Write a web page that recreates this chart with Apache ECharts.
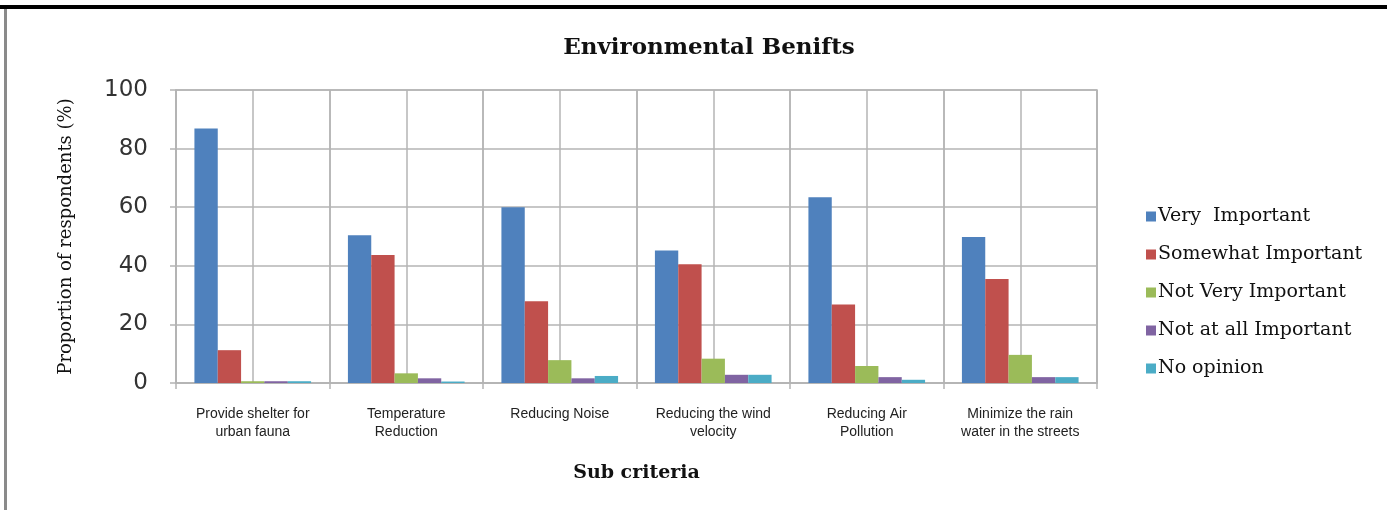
<!DOCTYPE html>
<html>
<head>
<meta charset="utf-8">
<script src="https://cdn.jsdelivr.net/npm/echarts@6/dist/echarts.min.js"></script>
<style>html,body{margin:0;padding:0;background:#fff;}#c{width:1387px;height:510px;}</style>
</head>
<body>
<div id="c"></div>
<script>
const categories = ['Provide shelter for\nurban fauna', 'Temperature\nReduction', 'Reducing Noise', 'Reducing the wind\nvelocity', 'Reducing Air\nPollution', 'Minimize the rain\nwater in the streets'];
const seriesNames = ['Very  Important', 'Somewhat Important', 'Not Very Important', 'Not at all Important', 'No opinion'];
const veryImportant = [86.9, 50.4, 60.0, 45.2, 63.4, 49.8];
const somewhatImportant = [11.2, 43.7, 27.9, 40.5, 26.8, 35.5];
const notVeryImportant = [0.6, 3.3, 7.8, 8.3, 5.8, 9.6];
const notAtAllImportant = [0.6, 1.6, 1.6, 2.8, 2.0, 2.0];
const noOpinion = [0.6, 0.5, 2.4, 2.8, 1.1, 2.0];
const yTicks = [0, 20, 40, 60, 80, 100];

const colors = ['#4F81BD', '#C0504D', '#9BBB59', '#8064A2', '#4BACC6'];
const values = [veryImportant, somewhatImportant, notVeryImportant, notAtAllImportant, noOpinion];
const halfCats = [];
categories.forEach((c, i) => { halfCats.push('a' + i, 'b' + i); });

const chart = echarts.init(document.getElementById('c'));
const gridColor = '#b4b4b4';
chart.setOption({
  animation: false,
  color: colors,
  title: {
    text: 'Environmental Benifts',
    left: 704, textAlign: 'center', top: 32,
    textStyle: { fontFamily: 'DejaVu Serif', fontWeight: 'bold', fontSize: 23, color: '#111' }
  },
  legend: {
    orient: 'vertical', left: 1141, top: 202,
    itemWidth: 10, itemHeight: 10, itemGap: 19,
    icon: 'rect',
    data: seriesNames,
    textStyle: { fontFamily: 'DejaVu Serif', fontSize: 19, color: '#111', padding: [0, 0, 0, -3] }
  },
  grid: { left: 176, right: 290, top: 90, bottom: 127, show: true, borderColor: gridColor, borderWidth: 1.5 },
  xAxis: [{
    type: 'category', data: categories,
    axisLine: { lineStyle: { color: gridColor, width: 1.5 } },
    axisTick: { show: true, length: 6, lineStyle: { color: gridColor, width: 1.5 } },
    splitLine: { show: true, lineStyle: { color: gridColor, width: 1.5 } },
    axisLabel: { interval: 0, margin: 22, fontFamily: 'Liberation Sans', fontSize: 14, color: '#222', lineHeight: 18 },
    name: 'Sub criteria', nameLocation: 'middle', nameGap: 81,
    nameTextStyle: { fontFamily: 'DejaVu Serif', fontWeight: 'bold', fontSize: 19, color: '#111' }
  }, {
    type: 'category', data: halfCats, position: 'bottom',
    axisLine: { show: false }, axisTick: { show: false }, axisLabel: { show: false },
    splitLine: { show: true, lineStyle: { color: gridColor, width: 1.5 } }
  }],
  yAxis: {
    type: 'value', min: 0, max: 100, interval: 20,
    axisLine: { show: true, lineStyle: { color: gridColor, width: 1.5 } },
    axisTick: { show: true, inside: false, length: 6, lineStyle: { color: gridColor, width: 1.5 } },
    splitLine: { lineStyle: { color: gridColor, width: 1.5 } },
    axisLabel: { margin: 28, fontFamily: 'DejaVu Sans', fontSize: 23, color: '#333',
      formatter: v => yTicks.includes(v) ? String(v) : '' },
    name: 'Proportion of respondents (%)', nameLocation: 'middle', nameGap: 101,
    nameTextStyle: { fontFamily: 'DejaVu Serif', fontSize: 18, color: '#111' }
  },
  series: seriesNames.map((n, i) => ({
    name: n, type: 'bar', xAxisIndex: 0, data: values[i],
    barGap: '0%', barCategoryGap: '24%',
    itemStyle: { color: colors[i] }
  })),
  graphic: [
    { type: 'rect', shape: { x: 0, y: 5, width: 1387, height: 4 }, style: { fill: '#000' } },
    { type: 'rect', shape: { x: 4, y: 9, width: 3, height: 501 }, style: { fill: '#8a8a8a' } }
  ]
});
</script>
</body>
</html>
